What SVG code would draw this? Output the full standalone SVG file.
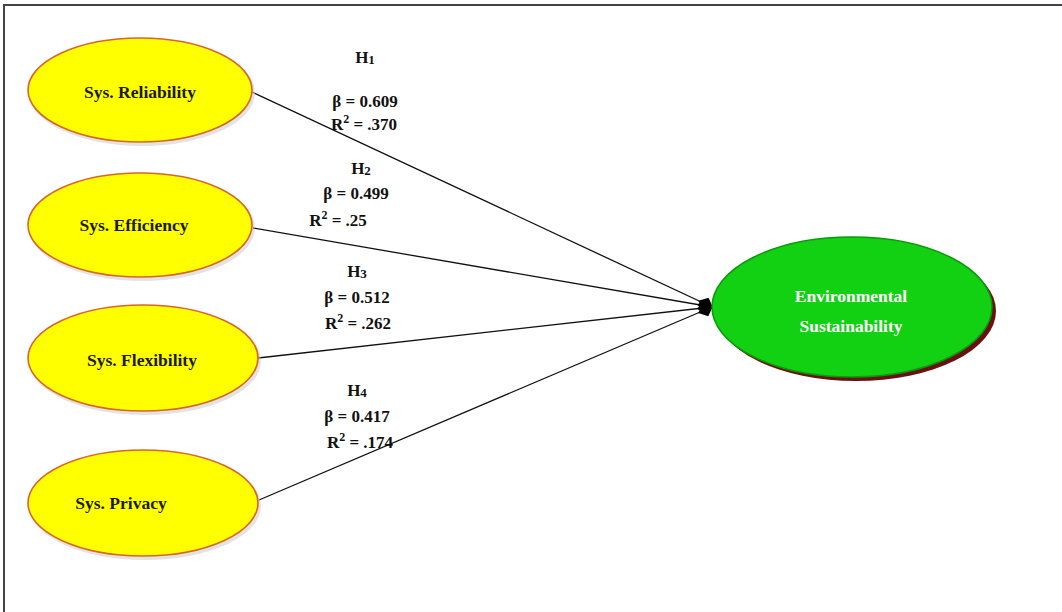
<svg xmlns="http://www.w3.org/2000/svg" width="1062" height="612" viewBox="0 0 1062 612">
<defs>
<style>
.y{fill:#ffff00;stroke:#d8662a;stroke-width:1.6}
.ysh{fill:#c8c8c8;opacity:0.5}
.nt{font-family:"Liberation Serif","Times New Roman",serif;font-weight:bold;font-size:17.5px;fill:#1a1a1a;text-anchor:middle}
.gt{font-family:"Liberation Serif","Times New Roman",serif;font-weight:bold;font-size:17.5px;fill:#ffffff;text-anchor:middle}
.lb{font-family:"Liberation Serif","Times New Roman",serif;font-weight:bold;font-size:17px;fill:#111;text-anchor:middle}
.sb{font-size:13px}
.sp{font-size:12px}
.c{stroke:#111;stroke-width:1.3;fill:none}
</style>
<marker id="dia" viewBox="0 0 16 14" refX="15" refY="7" markerWidth="16" markerHeight="14" markerUnits="userSpaceOnUse" orient="auto">
<path d="M0,7 L8,0 L16,7 L8,14 Z" fill="#000"/>
</marker>
</defs>
<rect width="1062" height="612" fill="#fff"/>
<path d="M4,612 V5 H1062" fill="none" stroke="#444" stroke-width="2"/>
<g id="connectors">
<line class="c" x1="252" y1="92" x2="712" y2="307" marker-end="url(#dia)"/>
<line class="c" x1="253" y1="228" x2="712" y2="307" marker-end="url(#dia)"/>
<line class="c" x1="258" y1="358" x2="712" y2="307" marker-end="url(#dia)"/>
<line class="c" x1="259" y1="500" x2="712" y2="307" marker-end="url(#dia)"/>
</g>
<g id="n1">
<ellipse class="ysh" cx="142" cy="93" rx="113" ry="53"/>
<ellipse class="y" cx="140" cy="90" rx="112" ry="52"/>
<text class="nt" x="140" y="98">Sys. Reliability</text>
</g>
<g id="n2">
<ellipse class="ysh" cx="142" cy="228" rx="113" ry="53"/>
<ellipse class="y" cx="140" cy="225" rx="112" ry="52"/>
<text class="nt" x="134" y="231">Sys. Efficiency</text>
</g>
<g id="n3">
<ellipse class="ysh" cx="145" cy="361" rx="116" ry="54"/>
<ellipse class="y" cx="143" cy="358" rx="115" ry="53"/>
<text class="nt" x="142" y="366">Sys. Flexibility</text>
</g>
<g id="n4">
<ellipse class="ysh" cx="145" cy="506" rx="116" ry="54"/>
<ellipse class="y" cx="143" cy="503" rx="115" ry="53"/>
<text class="nt" x="121" y="509">Sys. Privacy</text>
</g>
<g id="n5">
<ellipse cx="856" cy="311" rx="140" ry="70" fill="#6b1010"/>
<ellipse cx="852" cy="307" rx="140" ry="70" fill="#12d012" stroke="#0a9a0a" stroke-width="1.5"/>
<text class="gt" x="851" y="302">Environmental</text>
<text class="gt" x="851" y="332">Sustainability</text>
</g>
<g id="labels">
<text class="lb" x="365" y="63">H<tspan class="sb" dy="1">1</tspan></text>
<text class="lb" x="365" y="107">β = 0.609</text>
<text class="lb" x="364" y="130">R<tspan class="sp" dy="-7">2</tspan><tspan dy="7"> = .370</tspan></text>
<text class="lb" x="361" y="174">H<tspan class="sb" dy="1">2</tspan></text>
<text class="lb" x="356" y="199">β = 0.499</text>
<text class="lb" x="338" y="226">R<tspan class="sp" dy="-7">2</tspan><tspan dy="7"> = .25</tspan></text>
<text class="lb" x="357" y="277">H<tspan class="sb" dy="1">3</tspan></text>
<text class="lb" x="357" y="303">β = 0.512</text>
<text class="lb" x="358" y="329">R<tspan class="sp" dy="-7">2</tspan><tspan dy="7"> = .262</tspan></text>
<text class="lb" x="357" y="396">H<tspan class="sb" dy="1">4</tspan></text>
<text class="lb" x="357" y="422">β = 0.417</text>
<text class="lb" x="360" y="448">R<tspan class="sp" dy="-7">2</tspan><tspan dy="7"> = .174</tspan></text>
</g>
</svg>
